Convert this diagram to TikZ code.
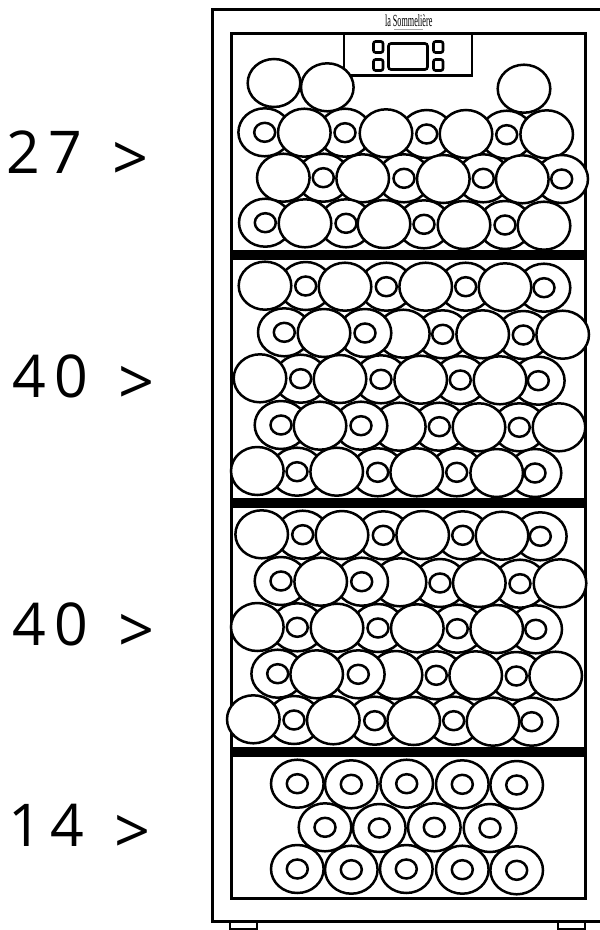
\documentclass[tikz,border=0pt]{standalone}
\usepackage{fontspec}
\setmainfont{Open Sans}
\newfontfamily\logofont{Liberation Serif}
\tikzset{
  lineart/.style={draw=black,line width=2.6pt},
  boxline/.style={draw=black,line width=3pt},
  bottle/.style={draw=black,fill=white,line width=2.5pt},
  shelfbar/.style={fill=black,draw=none},
  countlabel/.style={font=\fontsize{59}{59}\selectfont,anchor=base west,inner sep=0pt}
}
\newcommand{\bigcaret}{\raisebox{-7pt}{\fontsize{63}{63}\selectfont >}}
\newcommand{\solidb}[2]{\draw[bottle] (#1,#2) ellipse [x radius=26.3,y radius=24];}
\newcommand{\ringb}[2]{\draw[bottle] (#1,#2) ellipse [x radius=26.3,y radius=24];
  \draw[bottle] (#1,#2) ellipse [x radius=10.5,y radius=9.5];}
% a row of bottles: first the ring ones (seen end on), then the solid ones over them
\newcommand{\rowover}[2]{%
  \foreach \p/\q in {#1} {\ringb{\p}{\q}}
  \foreach \p/\q in {#2} {\solidb{\p}{\q}}}
\begin{document}
\begin{tikzpicture}[x=1pt,y=-1pt]
\useasboundingbox (0,0) rectangle (600,930);
\fill[white] (0,0) rectangle (600,930);
% feet
\draw[lineart] (230,922) -- (230,932) (257,922) -- (257,932) (230,929) -- (257,929);
\draw[lineart] (558,922) -- (558,932) (585,922) -- (585,932) (558,929) -- (585,929);
% cabinet
\draw[boxline] (602,9) -- (212.5,9) -- (212.5,921.5) -- (602,921.5);
\draw[boxline] (231,33) rectangle (585,898);
% control panel
\draw[lineart] (344,33) -- (344,75.5) -- (472,75.5) -- (472,33);
\draw[lineart,rounded corners=2.5pt] (388.5,43.5) rectangle (427.5,69.5);
\foreach \bx in {373.5,433.5}
  \foreach \by in {41.5,59.5}
    \draw[lineart,rounded corners=2pt] (\bx,\by) rectangle ++(9.5,11);
% logo
\node[inner sep=0pt,anchor=base,font=\logofont\fontsize{17}{17}\selectfont] (logo) at (408.7,26) {\scalebox{0.48}[1]{la Sommelière}};
\draw[gray!70,line width=1pt] (394,29) -- (423,29);
% shelves
\fill[shelfbar] (232,249.5) rectangle (585,260);
\fill[shelfbar] (232.5,498) rectangle (586,508);
\fill[shelfbar] (231,747) rectangle (584,757);
% labels
\node[countlabel] (n27) at (6,173) {2\kern9pt 7\kern30pt \bigcaret};
\node[countlabel] (n40a) at (12,397) {4\kern9pt 0\kern30pt \bigcaret};
\node[countlabel] (n40b) at (12,645) {4\kern9pt 0\kern30pt \bigcaret};
\node[countlabel] (n14) at (8,846) {1\kern9pt 4\kern30pt \bigcaret};
% top section
\solidb{274}{83}\solidb{327.3}{87.3}\solidb{524}{88.7}
\rowover{264.7/132.3,345/132.7,426.7/134,506.7/134.7}{304.3/132.7,386/133.3,466/134,546.7/134.3}
\rowover{323.3/177.7,404/178.3,483.3/178.3,561.7/179}{283.3/177.7,362.7/178.3,443.3/179,522.3/179.3}
\rowover{265.3/222.7,346/223.3,424/224.3,505/225}{305/223.3,384/224,464/225,544/225.7}
% second section
\rowover{305.7/286,386.3/286.7,465.7/286.7,544/287.7}{265/285.7,345/286.7,425.7/286.7,505/287.3}
\ringb{442.7}{334.3}\solidb{403.3}{333.7}
\rowover{284.3/332.3,365/333,523.3/335}{324/333,482.7/334.3,562.7/334.7}
\rowover{300.7/378.7,381/379.3,460.3/380,538.3/380.7}{260/378.3,340/379,420.7/379.7,500/380.3}
\ringb{439.3}{426.7}\solidb{399.3}{426.7}
\rowover{281/425,361/425.7,519.3/427.3}{320/425.7,479/427.3,559/427.3}
\rowover{297/471.7,377.7/472.3,456.7/472.3,535/473}{257.3/471,336.7/471.7,416.7/472.3,496.7/473}
% third section
\rowover{302.7/534.7,383.3/535.3,462.7/535.3,540.3/536.3}{261.7/534.3,342/535,422.7/535,502/535.7}
\ringb{440}{583}\solidb{400}{582.3}
\rowover{281/581,361.7/581.7,520/583.7}{320.7/581.7,479.3/583,560/583.3}
\rowover{297.3/627.3,378/628,457.3/628.7,535.7/629.3}{257.3/627,337/627.7,417.3/628.3,496.7/629}
\ringb{436.3}{675.3}\solidb{396}{675}
\rowover{277.7/673.7,358.3/674.3,516.3/676}{316.7/674.3,475.7/675.3,555.7/675.7}
\rowover{294/720,374.7/720.7,453.7/720.7,531.7/721.7}{253.3/719.3,333.3/720.3,413.7/721,493/721.7}
% bottom section
\foreach \p/\q in {297.3/783.7,351.3/784.3,406.7/783.7,462.3/784.3,516.7/785,
                   325/827.3,379.3/828,434.3/827.3,490/828,
                   297.3/869,351.3/869.7,406.3/869,462.3/869.7,516.7/870.3} {\ringb{\p}{\q}}
\end{tikzpicture}
\end{document}
